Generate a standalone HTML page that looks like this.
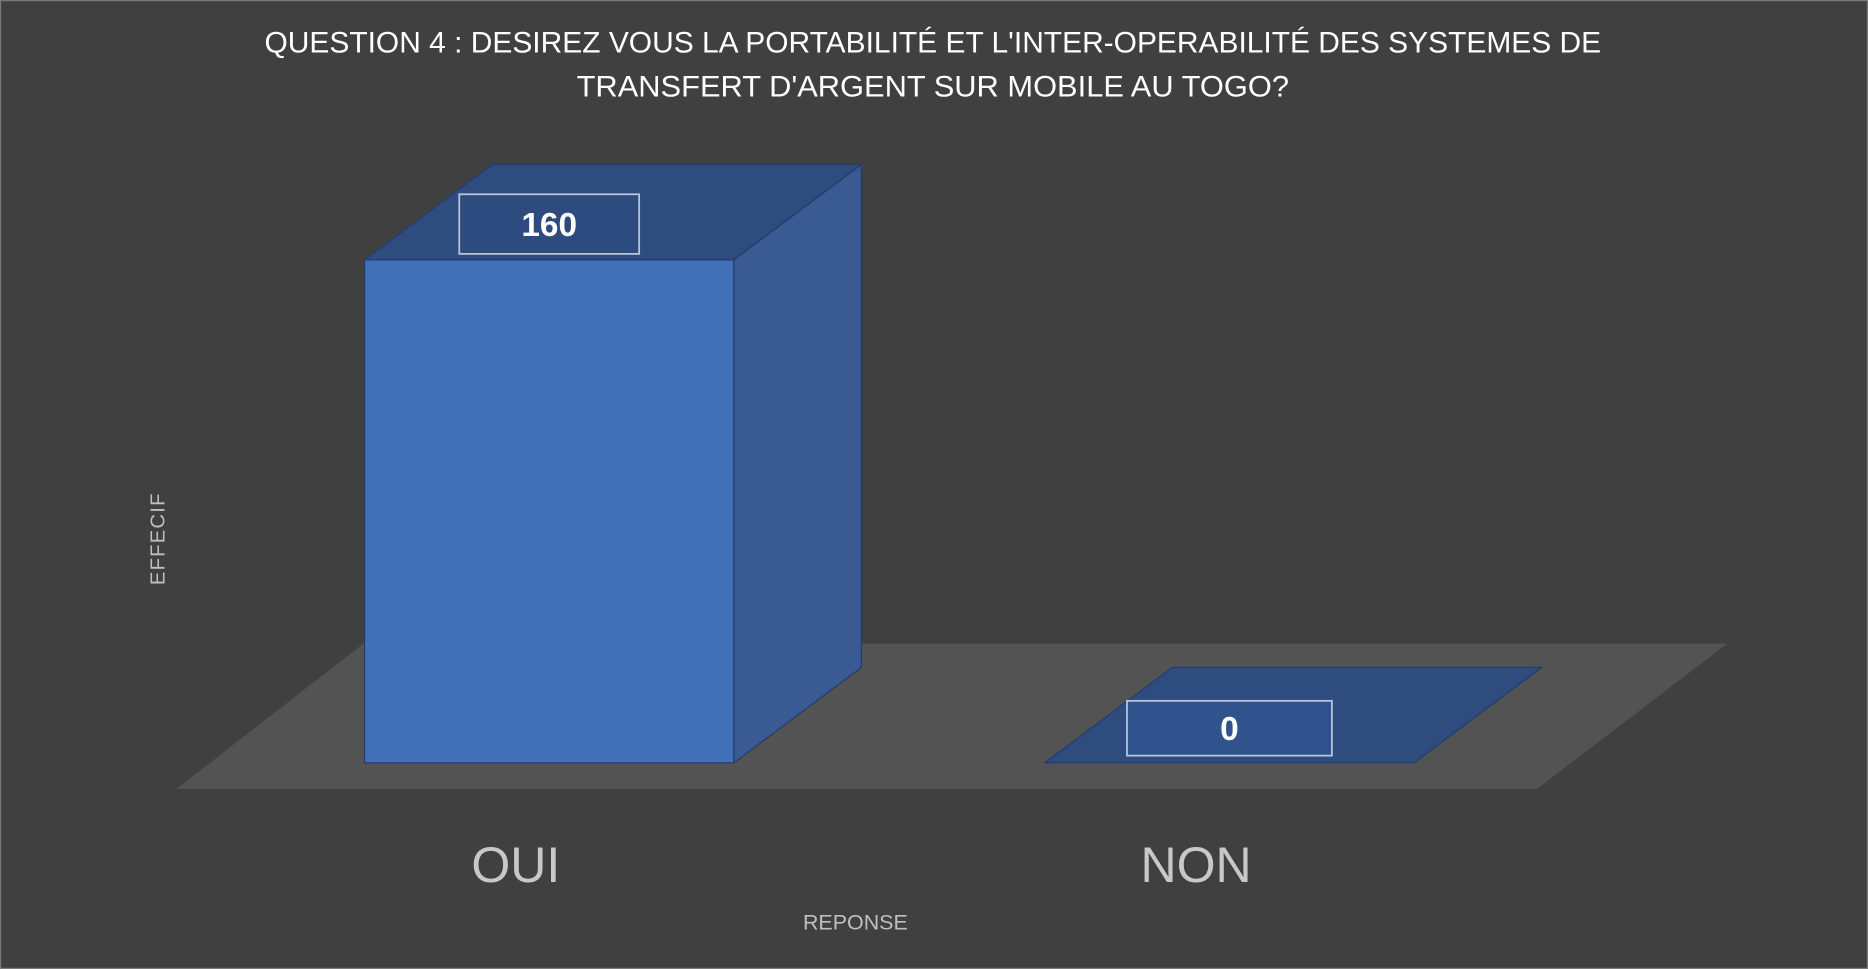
<!DOCTYPE html>
<html><head><meta charset="utf-8"><style>
html,body{margin:0;padding:0;background:#404040;}
svg{display:block;}
text{font-family:"Liberation Sans",sans-serif;}
</style></head><body>
<svg width="1868" height="969" viewBox="0 0 1568 813" preserveAspectRatio="none" xmlns="http://www.w3.org/2000/svg">
<rect x="0.5" y="0.5" width="1567" height="812" fill="#404040" stroke="#7a7a7a"/>
<text x="783" y="44" text-anchor="middle" fill="#fff" font-size="25" textLength="1122" lengthAdjust="spacingAndGlyphs">QUESTION 4 : DESIREZ VOUS LA PORTABILITÉ ET L'INTER-OPERABILITÉ DES SYSTEMES DE</text>
<text x="783" y="81" text-anchor="middle" fill="#fff" font-size="25" textLength="598" lengthAdjust="spacingAndGlyphs">TRANSFERT D'ARGENT SUR MOBILE AU TOGO?</text>
<polygon points="148,662 1290,662 1450,540 305,540" fill="#545354"/>
<g id="bars"></g>
<text transform="translate(138,452) rotate(-90)" text-anchor="middle" fill="#bfbfbf" font-size="17" letter-spacing="1">EFFECIF</text>
<text x="718" y="780" text-anchor="middle" fill="#bfbfbf" font-size="18">REPONSE</text>
</svg>
<script>
const categories = ["OUI", "NON"];
const values = [160, 0];
const yMax = 160;
const baseY = 640, fullH = 422, barW = 310, dx = 107, dy = -80;
const catX = [306, 877];
function yScale(v){ return baseY - v / yMax * fullH; }
const NS = "http://www.w3.org/2000/svg";
const g = document.getElementById("bars");
const svg = g.ownerSVGElement;
function poly(pts, fill, name){
  const p = document.createElementNS(NS, "polygon");
  p.setAttribute("points", pts.map(a=>a.join(",")).join(" "));
  p.setAttribute("fill", fill);
  p.setAttribute("stroke", "#223c6e");
  p.setAttribute("stroke-width", "1");
  
  
  g.appendChild(p);
}
function txt(x, y, s, size, fill, name, weight){
  const t = document.createElementNS(NS, "text");
  t.setAttribute("x", x); t.setAttribute("y", y);
  t.setAttribute("text-anchor", "middle");
  t.setAttribute("fill", fill);
  t.setAttribute("font-size", size);
  if (weight) t.setAttribute("font-weight", weight);
  t.textContent = s;
  
  
  svg.appendChild(t);
}
categories.forEach((c, i) => {
  const x0 = catX[i], x1 = x0 + barW, yt = yScale(values[i]);
  if (values[i] > 0) {
    poly([[x0,yt],[x1,yt],[x1,baseY],[x0,baseY]], "#4270b8", "bar-front-" + c.toLowerCase());
    poly([[x1,yt],[x1+dx,yt+dy],[x1+dx,baseY+dy],[x1,baseY]], "#3a5a94", "bar-side-" + c.toLowerCase());
  }
  poly([[x0,yt],[x1,yt],[x1+dx,yt+dy],[x0+dx,yt+dy]], "#2f4c7e", "bar-top-" + c.toLowerCase());
  // value label
  const lw = values[i] > 0 ? 151 : 172, lh = values[i] > 0 ? 50 : 46;
  const cx = values[i] > 0 ? x0 + 155 : x0 + 155;
  const cy = values[i] > 0 ? yt - 30 : yt - 29;
  const r = document.createElementNS(NS, "rect");
  r.setAttribute("x", cx - lw/2); r.setAttribute("y", cy - lh/2);
  r.setAttribute("width", lw); r.setAttribute("height", lh);
  r.setAttribute("fill", values[i] > 0 ? "#2e4b7f" : "#30538d");
  r.setAttribute("stroke", "#b8c4d8"); r.setAttribute("stroke-width", "1.5");
  
  
  svg.appendChild(r);
  txt(cx, cy + 10, String(values[i]), 28, "#fff", "data-label-" + c.toLowerCase(), "bold");
  txt(x0 + 127, 740, c, 42, "#c8c8c8", "x-tick-" + c.toLowerCase());
});
</script>
</body></html>
